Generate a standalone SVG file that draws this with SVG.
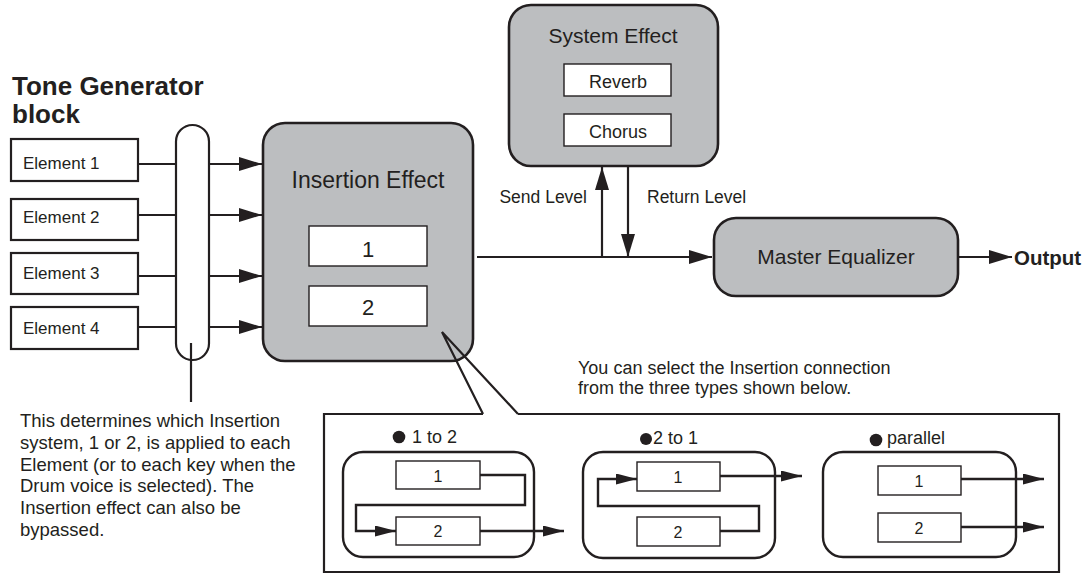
<svg xmlns="http://www.w3.org/2000/svg" width="1085" height="575" viewBox="0 0 1085 575">
<defs>
<style>
text{font-family:"Liberation Sans",Arial,Helvetica,sans-serif;fill:#231f20}
.big{fill:#bcbec0;stroke:#231f20;stroke-width:2.6}
.el{fill:#fff;stroke:#231f20;stroke-width:2.2}
.sm{fill:#fff;stroke:#231f20;stroke-width:1.4}
.grp{fill:none;stroke:#231f20;stroke-width:2.4}
.ln{fill:none;stroke:#231f20;stroke-width:2.2}
.lns{fill:none;stroke:#231f20;stroke-width:2.4}
.c{text-anchor:middle}
</style>
<marker id="ah" markerUnits="userSpaceOnUse" markerWidth="23" markerHeight="14" refX="23" refY="7" orient="auto">
<path d="M0,0 L23,7 L0,14 z" fill="#231f20"/>
</marker>
<marker id="ahs" markerUnits="userSpaceOnUse" markerWidth="21" markerHeight="11" refX="21" refY="5.5" orient="auto">
<path d="M0,0 L21,5.5 L0,11 z" fill="#231f20"/>
</marker>
</defs>
<rect width="1085" height="575" fill="#fff"/>

<g id="title">
<text x="12" y="95" font-size="26" font-weight="bold">Tone Generator</text>
<text x="12" y="123" font-size="26" font-weight="bold">block</text>
</g>

<g id="element1"><rect class="el" x="11" y="139" width="127" height="42"/><text x="23" y="169" font-size="17">Element 1</text></g>
<g id="element2"><rect class="el" x="11" y="199" width="127" height="41"/><text x="23" y="223" font-size="17">Element 2</text></g>
<g id="element3"><rect class="el" x="11" y="253" width="127" height="41"/><text x="23" y="279" font-size="17">Element 3</text></g>
<g id="element4"><rect class="el" x="11" y="307" width="127" height="42"/><text x="23" y="334" font-size="17">Element 4</text></g>

<g id="connectors">
<path class="ln" d="M138,164 H176 M138,215 H176 M138,276 H176 M138,327 H176"/>
<path class="ln" d="M209,164 H262" marker-end="url(#ah)"/>
<path class="ln" d="M209,215 H262" marker-end="url(#ah)"/>
<path class="ln" d="M209,276 H262" marker-end="url(#ah)"/>
<path class="ln" d="M209,327 H262" marker-end="url(#ah)"/>
<path class="ln" d="M477,257 H712" marker-end="url(#ah)"/>
<path class="ln" d="M602,257 V167" marker-end="url(#ah)"/>
<path class="ln" d="M628,166 V257" marker-end="url(#ah)"/>
<path class="ln" d="M958,257 H1012" marker-end="url(#ah)"/>
<path class="ln" d="M191,343 V402"/>
</g>

<g id="selector">
<rect class="el" x="176" y="125" width="33" height="235" rx="16.5"/>
<line class="ln" x1="191" y1="343" x2="191" y2="360"/>
</g>

<g id="insertion-effect">
<rect class="big" x="263" y="123" width="210" height="238" rx="22"/>
<text class="c" x="368" y="188" font-size="23">Insertion Effect</text>
<rect class="sm" x="309" y="226" width="118" height="40"/>
<text class="c" x="368" y="257" font-size="22">1</text>
<rect class="sm" x="309" y="286" width="118" height="40"/>
<text class="c" x="368" y="315" font-size="22">2</text>
</g>

<g id="system-effect">
<rect class="big" x="509" y="5" width="209" height="161" rx="22"/>
<text class="c" x="613" y="43" font-size="21">System Effect</text>
<rect class="sm" x="564" y="64" width="107" height="32"/>
<text class="c" x="618" y="88" font-size="18">Reverb</text>
<rect class="sm" x="564" y="114" width="107" height="32"/>
<text class="c" x="618" y="138" font-size="18">Chorus</text>
</g>

<g id="labels">
<text x="587" y="203" font-size="17.5" text-anchor="end">Send Level</text>
<text x="647" y="203" font-size="17.5">Return Level</text>
</g>

<g id="master-equalizer">
<rect class="big" x="714" y="218" width="244" height="78" rx="22"/>
<text class="c" x="836" y="264" font-size="21">Master Equalizer</text>
</g>

<g id="output"><text x="1014" y="265" font-size="20.5" font-weight="bold">Output</text></g>

<g id="note-left" font-size="18.5">
<text x="20" y="427">This determines which Insertion</text>
<text x="20" y="449">system, 1 or 2, is applied to each</text>
<text x="20" y="470.5">Element (or to each key when the</text>
<text x="20" y="492">Drum voice is selected). The</text>
<text x="20" y="514">Insertion effect can also be</text>
<text x="20" y="535.5">bypassed.</text>
</g>

<g id="callout">
<path class="ln" d="M483,414 L442,332 L518,414"/>
<path class="ln" d="M483,414 H324 V572 H1059 V414 H518"/>
<text x="578" y="374" font-size="18">You can select the Insertion connection</text>
<text x="578" y="394" font-size="18">from the three types shown below.</text>
</g>

<g id="type-1to2">
<circle cx="399" cy="437" r="6.3" fill="#231f20"/>
<text x="412" y="443" font-size="18">1 to 2</text>
<rect class="grp" x="343" y="452" width="191" height="105" rx="20"/>
<rect class="sm" x="396" y="461" width="84" height="28"/>
<text class="c" x="438" y="482" font-size="16">1</text>
<rect class="sm" x="396" y="517" width="84" height="28"/>
<text class="c" x="438" y="537" font-size="16">2</text>
<path class="lns" d="M480,475 H525 V505 H356 V531 H396" marker-end="url(#ahs)"/>
<path class="lns" d="M480,531 H564" marker-end="url(#ahs)"/>
</g>

<g id="type-2to1">
<circle cx="646" cy="439" r="6" fill="#231f20"/>
<text x="653" y="444" font-size="18">2 to 1</text>
<rect class="grp" x="583" y="452" width="192" height="106" rx="20"/>
<rect class="sm" x="637" y="462" width="83" height="29"/>
<text class="c" x="678" y="483" font-size="16">1</text>
<rect class="sm" x="637" y="517" width="83" height="29"/>
<text class="c" x="678" y="538" font-size="16">2</text>
<path class="lns" d="M720,531 H759 V506 H598 V479 H637" marker-end="url(#ahs)"/>
<path class="lns" d="M720,476 H802" marker-end="url(#ahs)"/>
</g>

<g id="type-parallel">
<circle cx="876" cy="440" r="6.3" fill="#231f20"/>
<text x="887" y="444" font-size="18">parallel</text>
<rect class="grp" x="823" y="452" width="193" height="105" rx="20"/>
<rect class="sm" x="878" y="466" width="83" height="29"/>
<text class="c" x="919" y="487" font-size="16">1</text>
<rect class="sm" x="878" y="513" width="83" height="29"/>
<text class="c" x="919" y="534" font-size="16">2</text>
<path class="lns" d="M961,479 H1044" marker-end="url(#ahs)"/>
<path class="lns" d="M961,527 H1044" marker-end="url(#ahs)"/>
</g>
</svg>
